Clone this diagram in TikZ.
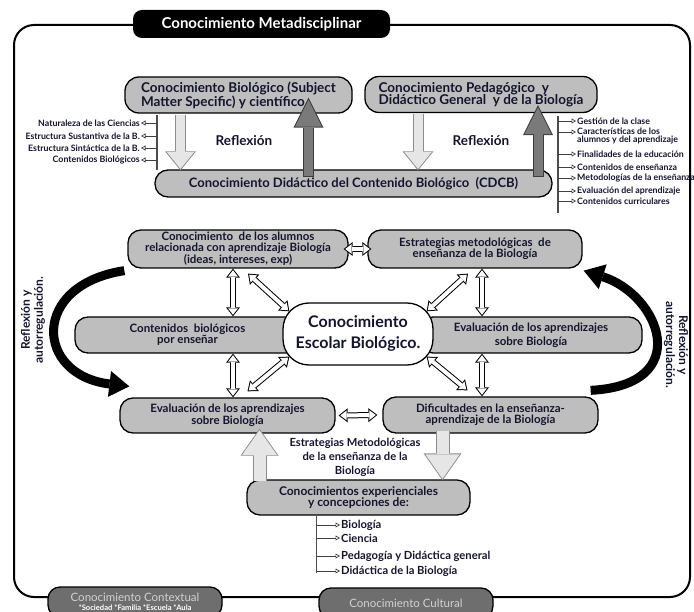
\documentclass[tikz,border=0pt]{standalone}
\usepackage{fontspec}
\setmainfont{Lato}
\usetikzlibrary{arrows.meta,calc}
\definecolor{ink}{HTML}{14142E}
\definecolor{boxgray}{HTML}{BEBEBE}
\definecolor{lightfill}{HTML}{E6E6E6}
\definecolor{lightedge}{HTML}{8C8C8C}
\definecolor{darkfill}{HTML}{7A7A7A}
\definecolor{darkedge}{HTML}{3C3C3C}
\definecolor{ctxgray}{HTML}{6E6E6E}
\definecolor{ctxtext}{HTML}{D2D2D2}
\tikzset{
  frame/.style={draw=black, line width=2pt, rounded corners=20pt},
  titlebox/.style={fill=black, rounded corners=9pt, text=white, font=\bfseries\fontsize{15}{15}\selectfont, minimum width=257pt, minimum height=28pt},
  ctxbox/.style={draw=black, line width=1.3pt, fill=ctxgray, rounded corners=12pt, text=ctxtext, font=\fontsize{11.5}{10}\selectfont, align=center, minimum width=174pt, minimum height=30pt, inner sep=1pt},
  box/.style={draw=black, line width=1.3pt, fill=boxgray, rounded corners=13pt, align=center, text=ink, font=\bfseries\fontsize{11.5}{10.8}\selectfont, inner sep=2pt},
  topbox/.style={box, align=left, rounded corners=14pt, font=\bfseries\fontsize{13.5}{12.5}\selectfont},
  refl/.style={text=ink, font=\bfseries\fontsize{13.5}{12}\selectfont},
  lst/.style={text=ink, font=\bfseries\fontsize{8.8}{8}\selectfont, inner sep=1pt, align=left},
  sarrow/.style={draw=gray!50!black, line width=0.7pt, -{Triangle[open,length=4.5pt,width=5pt]}},
  vline/.style={draw=gray!60!black, line width=1.2pt},
  hollow/.style={draw=black, line width=6pt,
    {Triangle[width=14pt,length=9pt,line width=0pt]}-{Triangle[width=14pt,length=9pt,line width=0pt]},
    postaction={draw=white, line width=4pt, shorten <=1.6pt, shorten >=1.6pt,
      {Triangle[width=9.9pt,length=6.4pt,line width=0pt]}-{Triangle[width=9.9pt,length=6.4pt,line width=0pt]}}},
  lightblk/.style={draw=lightedge, line width=11pt, -{Triangle[width=31pt,length=19pt,line width=0pt]},
    postaction={draw=lightfill, line width=9pt, shorten >=1.5pt, -{Triangle[width=27pt,length=16.6pt,line width=0pt]}}},
  darkblk/.style={draw=darkedge, line width=11pt, -{Triangle[width=30pt,length=30pt,line width=0pt]},
    postaction={draw=darkfill, line width=9pt, shorten <=1pt, shorten >=2.2pt, -{Triangle[width=26.8pt,length=26.8pt,line width=0pt]}}},
  lowblk/.style={draw=lightedge, line width=14pt, -{Triangle[width=38pt,length=27pt,line width=0pt]},
    postaction={draw=lightfill, line width=12pt, shorten >=1.6pt, -{Triangle[width=34.5pt,length=24.5pt,line width=0pt]}}},
  bigcurve/.style={draw=black, line width=9pt, -{Triangle[width=26pt,length=20pt,line width=0pt]}},
  side/.style={text=ink, font=\bfseries\fontsize{12}{13}\selectfont, align=center},
}
\begin{document}
\begin{tikzpicture}[x=1pt,y=-1pt]
  \useasboundingbox (0,0) rectangle (694,612);
  % marco
  \draw[frame] (14,25) rectangle (690,597);
  \node[titlebox] (meta) at (261.5,24) {Conocimiento Metadisciplinar};
  \node[ctxbox] (ctx) at (135,602) {Conocimiento Contextual\\[-1pt]{\bfseries\fontsize{7.6}{7.6}\selectfont\color{white}*Sociedad *Familia *Escuela *Aula}};
  \node[ctxbox] (cult) at (406,603) {Conocimiento Cultural};
  % parte superior
  \node[topbox, minimum width=227pt, minimum height=36pt] (bio) at (238.5,95) {Conocimiento Biológico (Subject\\Matter Specific) y científico};
  \node[topbox, minimum width=232pt, minimum height=36pt] (ped) at (481,94.5) {Conocimiento Pedagógico~ y\\Didáctico General~ y de la Biología};
  \node[box, font=\bfseries\fontsize{13}{12}\selectfont, minimum width=397pt, minimum height=27pt] (cdcb) at (353.5,183.5) {Conocimiento Didáctico del Contenido Biológico~~(CDCB)};
  \node[refl] (r1) at (244,141) {Reflexión};
  \node[refl] (r2) at (481,141) {Reflexión};
  \draw[lightblk] ($(bio.south)+(-58,1)$) -- ($(bio.south |- cdcb.north)+(-58,1)$);
  \draw[darkblk] ($(bio.south |- cdcb.north)+(70,8)$) -- ($(bio.south)+(70,-16)$);
  \draw[lightblk] ($(ped.south)+(-63,1)$) -- ($(ped.south |- cdcb.north)+(-63,1)$);
  \draw[darkblk] ($(ped.south |- cdcb.north)+(57,8)$) -- ($(ped.south)+(57,-8)$);
  % lista izquierda
  \coordinate (la) at (157,115);
  \coordinate (lb) at (157,170);
  \draw[vline] (la) -- (lb);
  \node[lst, anchor=east] (l1) at (141,123) {Naturaleza de las Ciencias};
  \node[lst, anchor=east] (l2) at (141,136) {Estructura Sustantiva de la B.};
  \node[lst, anchor=east] (l3) at (141,148) {Estructura Sintáctica de la B.};
  \node[lst, anchor=east] (l4) at (141,160) {Contenidos Biológicos};
  \foreach \n in {l1,l2,l3,l4}
    \draw[sarrow] (\n -| la) -- (\n.east);
  % lista derecha
  \coordinate (ra) at (558,116);
  \coordinate (rb) at (558,213);
  \draw[vline] (ra) -- (rb);
  \node[lst, anchor=west] (g1) at (576,121) {Gestión de la clase};
  \node[lst, anchor=west] (g2) at (576,136) {Características de los\\alumnos y del aprendizaje};
  \node[lst, anchor=west] (g3) at (576,154) {Finalidades de la educación};
  \node[lst, anchor=west] (g4) at (576,167) {Contenidos de enseñanza};
  \node[lst, anchor=west] (g5) at (576,178) {Metodologías de la enseñanza};
  \node[lst, anchor=west] (g6) at (576,191) {Evaluación del aprendizaje};
  \node[lst, anchor=west] (g7) at (576,201) {Contenidos curriculares};
  \draw[sarrow] ($(g2.west -| ra)+(0,-4)$) -- ($(g2.west)+(0,-4)$);
  \foreach \n in {g1,g3,g4,g5,g6,g7}
    \draw[sarrow] (\n -| ra) -- (\n.west);
  % parte central
  \node[box, minimum width=220pt, minimum height=38pt] (n1) at (238,249) {Conocimiento~ de los alumnos\\relacionada con aprendizaje Biología\\(ideas, intereses, exp)};
  \node[box, minimum width=214pt, minimum height=38pt] (n2) at (475,249) {Estrategias metodológicas~ de\\enseñanza de la Biología};
  \node[box, minimum width=225pt, minimum height=36pt] (n3) at (187.5,335) {Contenidos~ biológicos\\por enseñar};
  \node[box, minimum width=222pt, minimum height=36pt] (n4) at (531,335) {Evaluación de los aprendizajes\\[3pt]sobre Biología};
  \node[draw=black, line width=1.3pt, fill=white, rounded corners=26pt, minimum width=150pt, minimum height=62pt, align=center, text=ink, font=\bfseries\fontsize{16}{21}\selectfont] (cen) at (358,334) {Conocimiento\\Escolar Biológico.};
  \node[box, minimum width=215pt, minimum height=35pt] (n5) at (227.5,415.5) {Evaluación de los aprendizajes\\[1pt]sobre Biología};
  \node[box, minimum width=215pt, minimum height=36pt] (n6) at (490.5,415) {Dificultades en la enseñanza-\\aprendizaje de la Biología};
  \node[box, font=\bfseries\fontsize{12}{11.5}\selectfont, minimum width=223pt, minimum height=35pt] (n7) at (358.5,497.5) {Conocimientos experienciales\\y concepciones de:};
  \draw[hollow] ([xshift=-5pt]n1.south) -- ([xshift=-5pt]n1.south |- n3.north);
  \draw[hollow] ($(n1.south)+(10,5)$) -- ($(cen.north west)+(7,9)$);
  \draw[hollow] ([xshift=-5pt]n1.east) -- ([xshift=4pt]n2.west);
  \draw[hollow] ([xshift=7pt]n2.south) -- ([xshift=7pt]n2.south |- n4.north);
  \draw[hollow] ($(n2.south)+(-7,5)$) -- ($(cen.north east)+(-7,9)$);
  \draw[hollow] ([xshift=-5pt]n1.south |- n3.south) -- ([xshift=-5pt]n1.south |- n5.north);
  \draw[hollow] ($(cen.south west)+(7,-9)$) -- ($(n5.north)+(20,-6)$);
  \draw[hollow] ([xshift=7pt]n2.south |- n4.south) -- ([xshift=7pt]n2.south |- n6.north);
  \draw[hollow] ($(cen.south east)+(-7,-9)$) -- ($(n6.north)+(-23,-6)$);
  \draw[hollow] ($(n5.east)+(3,0)$) -- ($(n6.west)+(-5,0)$);
  % flechas curvas
  \draw[bigcurve] ($(n1.south west)+(-3,2)$) .. controls (30,285) and (35,375) .. ($(n5.north west)+(10,-11)$);
  \draw[bigcurve] ($(n6.north east)+(-8,-6)$) .. controls (695,385) and (660,295) .. ($(n2.south east)+(1,2)$);
  \node[side, rotate=90] (s1) at (33,320) {Reflexión y\\autorregulación.};
  \node[side, rotate=-90] (s2) at (676,345) {Reflexión y\\autorregulación.};
  % parte inferior
  \draw[lowblk] ($(n5.south |- n7.north)+(32,2)$) -- ($(n5.south)+(32,-5)$);
  \draw[lowblk] ($(n6.south)+(-48,-3)$) -- ($(n6.south |- n7.north)+(-48,1)$);
  \node[side, font=\bfseries\fontsize{11.2}{14}\selectfont] (est) at (355,457) {Estrategias Metodológicas\\de la enseñanza de la\\Biología};
  \coordinate (ba) at ($(n7.south)+(-42,0)$);
  \coordinate (bb) at ($(n7.south)+(-42,57)$);
  \draw[vline] (ba) -- (bb);
  \node[lst, font=\bfseries\fontsize{11.2}{10}\selectfont, anchor=west] (c1) at (340,525) {Biología};
  \node[lst, font=\bfseries\fontsize{11.2}{10}\selectfont, anchor=west] (c2) at (340,538) {Ciencia};
  \node[lst, font=\bfseries\fontsize{11.2}{10}\selectfont, anchor=west] (c3) at (340,556) {Pedagogía y Didáctica general};
  \node[lst, font=\bfseries\fontsize{11.2}{10}\selectfont, anchor=west] (c4) at (340,571) {Didáctica de la Biología};
  \foreach \n in {c1,c2,c3,c4}
    \draw[sarrow] (\n -| ba) -- (\n.west);
\end{tikzpicture}
\end{document}
